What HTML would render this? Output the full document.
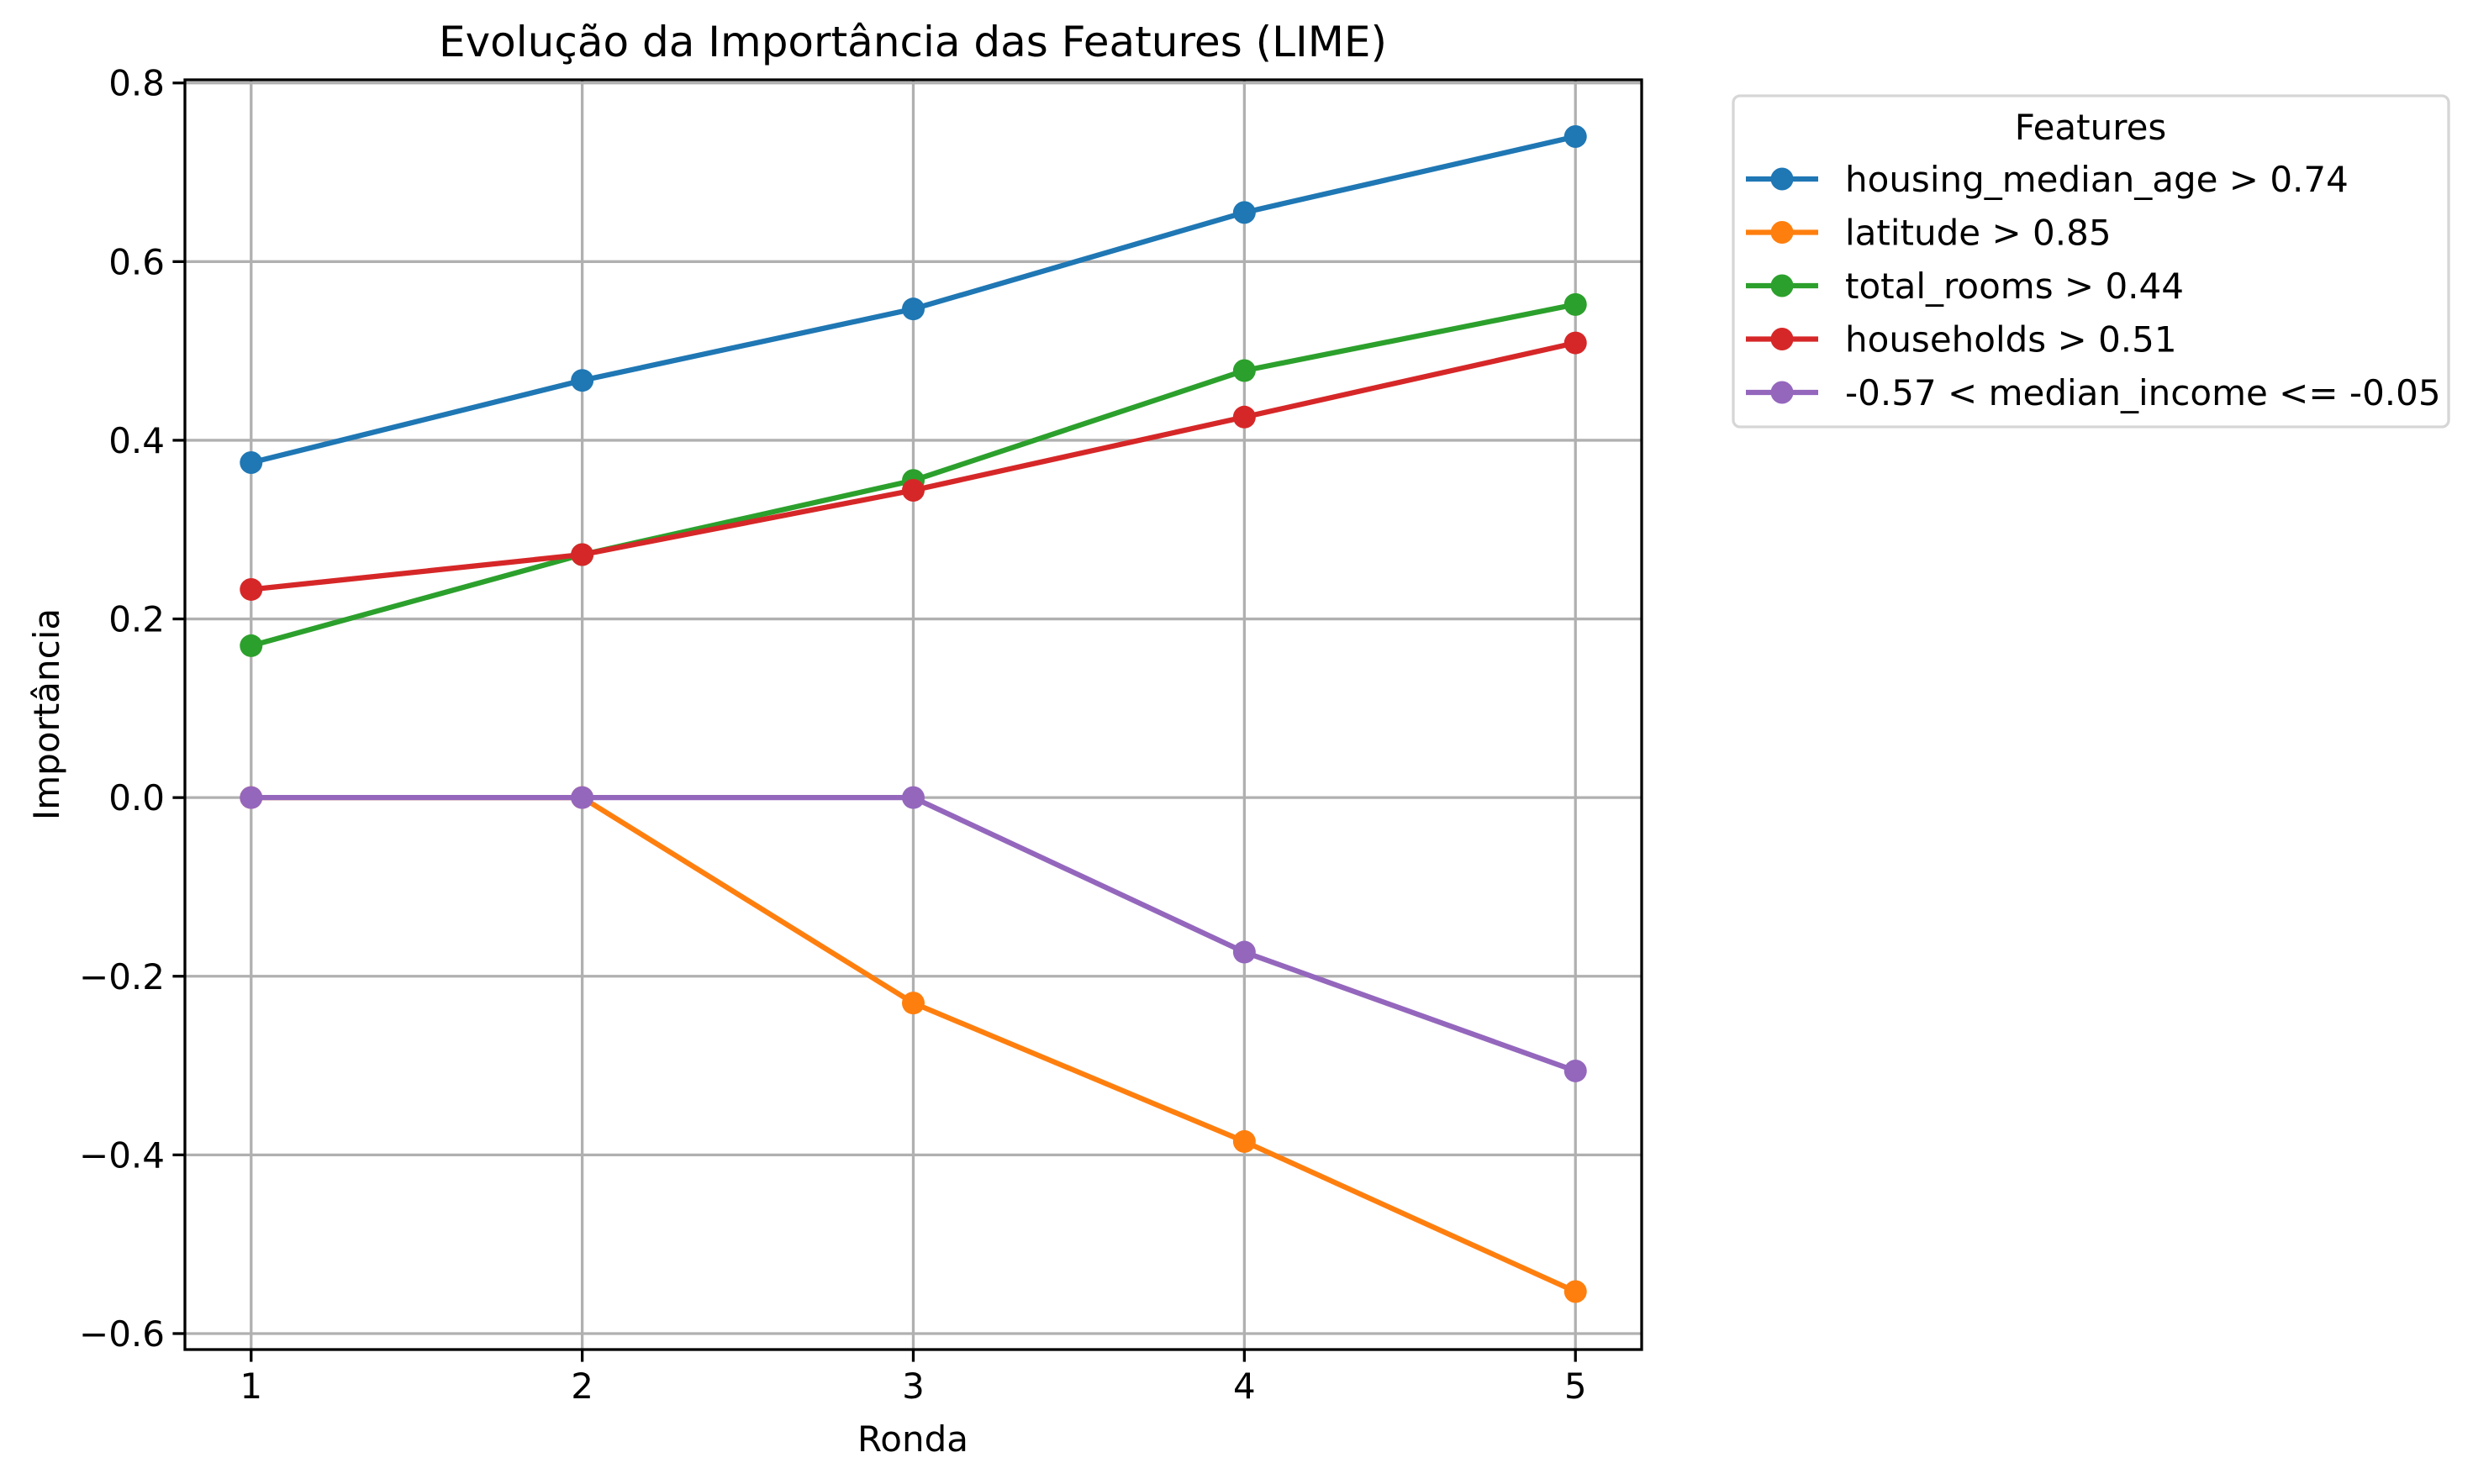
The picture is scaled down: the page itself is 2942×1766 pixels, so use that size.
<!DOCTYPE html>
<html><head><meta charset="utf-8"><style>
html,body{margin:0;padding:0;background:#fff}
svg{display:block;font-family:"DejaVu Sans","Liberation Sans",sans-serif}
</style></head><body>
<svg id="chart" width="2942" height="1766" viewBox="0 0 2942 1766" xmlns="http://www.w3.org/2000/svg">
<rect width="2942" height="1766" fill="#fff"/>
<g id="grid"></g>
<g id="series"></g>
<g id="axes"></g>
<text x="1086" y="67" font-size="50" text-anchor="middle">Evolução da Importância das Features (LIME)</text>
<text x="1086" y="1727" font-size="42" text-anchor="middle">Ronda</text>
<text x="0" y="0" font-size="42" text-anchor="middle" transform="translate(70,850) rotate(-90)">Importância</text>
<g id="legend"></g>
</svg>
<script>
const rounds = [1, 2, 3, 4, 5];
const seriesNames = ["housing_median_age > 0.74", "latitude > 0.85", "total_rooms > 0.44", "households > 0.51", "-0.57 < median_income <= -0.05"];
const housingAge = [0.375, 0.467, 0.547, 0.655, 0.740];
const latitude = [0, 0, -0.23, -0.385, -0.553];
const totalRooms = [0.17, 0.272, 0.355, 0.478, 0.552];
const households = [0.233, 0.272, 0.344, 0.426, 0.509];
const medianIncome = [0, 0, 0, -0.173, -0.306];
const yTicks = [-0.6, -0.4, -0.2, 0.0, 0.2, 0.4, 0.6, 0.8];
const yTickLabels = ["−0.6", "−0.4", "−0.2", "0.0", "0.2", "0.4", "0.6", "0.8"];
const xTickLabels = ["1", "2", "3", "4", "5"];
const colors = ["#1f77b4", "#ff7f0e", "#2ca02c", "#d62728", "#9467bd"];
const allSeries = [housingAge, latitude, totalRooms, households, medianIncome];
const slugs = ["housing-median-age", "latitude", "total-rooms", "households", "median-income"];

const L = 220, R = 1953, T = 95, B = 1606;
const xMin = 0.8, xMax = 5.2, yMin = -0.6179, yMax = 0.8035;
const xs = v => L + (v - xMin) / (xMax - xMin) * (R - L);
const ys = v => B - (v - yMin) / (yMax - yMin) * (B - T);
const NS = "http://www.w3.org/2000/svg";
function mk(tag, attrs, parent) {
  const e = document.createElementNS(NS, tag);
  for (const k in attrs) e.setAttribute(k, attrs[k]);
  parent.appendChild(e);
  return e;
}
const grid = document.getElementById('grid'), axes = document.getElementById('axes'),
      ser = document.getElementById('series'), leg = document.getElementById('legend');

rounds.forEach((r, i) => {
  const x = xs(r);
  const g = mk('line', {x1: x, x2: x, y1: T, y2: B, stroke: '#b0b0b0', 'stroke-width': 3.3}, grid);
  
  
  const t = mk('line', {x1: x, x2: x, y1: B, y2: B + 14.6, stroke: '#000', 'stroke-width': 3.3}, axes);
  
  
  const lb = mk('text', {x: x, y: B + 58, 'font-size': 42, 'text-anchor': 'middle'}, axes);
  lb.textContent = xTickLabels[i];
  
  
});
yTicks.forEach((v, i) => {
  const y = ys(v);
  const g = mk('line', {x1: L, x2: R, y1: y, y2: y, stroke: '#b0b0b0', 'stroke-width': 3.3}, grid);
  
  
  const t = mk('line', {x1: L - 14.6, x2: L, y1: y, y2: y, stroke: '#000', 'stroke-width': 3.3}, axes);
  
  
  const lb = mk('text', {x: L - 24, y: y + 15, 'font-size': 42, 'text-anchor': 'end'}, axes);
  lb.textContent = yTickLabels[i];
  
  
});
const frame = mk('rect', {x: L, y: T, width: R - L, height: B - T, fill: 'none', stroke: '#000', 'stroke-width': 3.3}, axes);



allSeries.forEach((vals, si) => {
  const g = mk('g', {}, ser);
  
  
  const pts = vals.map((v, i) => xs(rounds[i]) + ',' + ys(v)).join(' ');
  const pl = mk('polyline', {points: pts, fill: 'none', stroke: colors[si], 'stroke-width': 6.25, 'stroke-linejoin': 'round', 'stroke-linecap': 'square'}, g);
  
  
  vals.forEach((v, i) => {
    const c = mk('circle', {cx: xs(rounds[i]), cy: ys(v), r: 13.5, fill: colors[si]}, g);
    
    
  });
});

const box = mk('rect', {x: 2062, y: 114, width: 851, height: 394, rx: 8, fill: '#fff', stroke: '#d6d6d6', 'stroke-width': 3.3}, leg);


const lt = mk('text', {x: 2487, y: 166, 'font-size': 42, 'text-anchor': 'middle'}, leg);
lt.textContent = 'Features';


seriesNames.forEach((n, i) => {
  const y = 213 + i * 63.5;
  const g = mk('g', {}, leg);
  
  
  mk('line', {x1: 2077, x2: 2163, y1: y, y2: y, stroke: colors[i], 'stroke-width': 6.25}, g);
  mk('circle', {cx: 2120, cy: y, r: 13.5, fill: colors[i]}, g);
  const t = mk('text', {x: 2195, y: y + 15, 'font-size': 42}, g);
  t.textContent = n;
});
</script>
</body></html>
